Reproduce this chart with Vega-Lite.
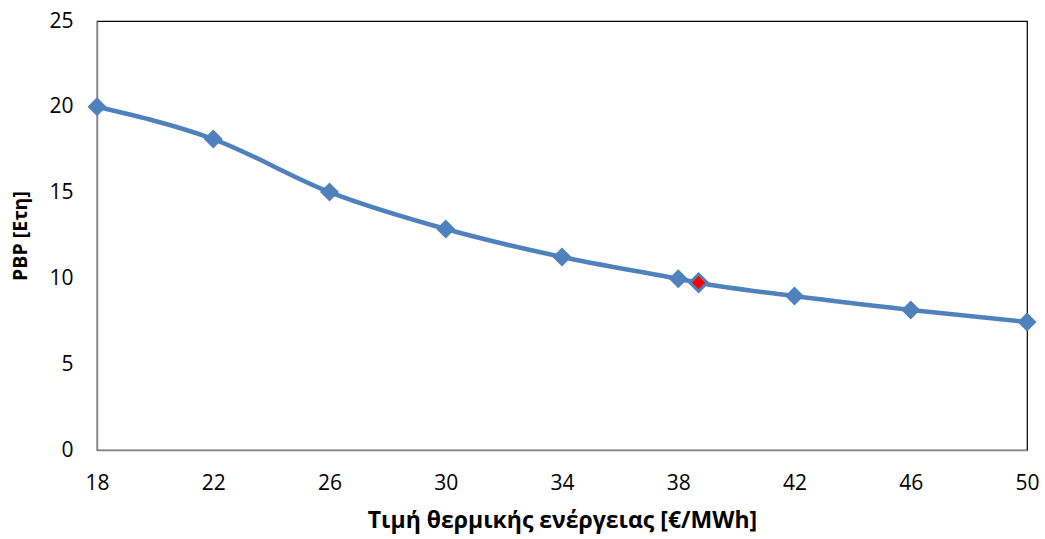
{
  "$schema": "https://vega.github.io/schema/vega-lite/v6.json",
  "width": 930,
  "height": 429,
  "autosize": {"type": "none"},
  "padding": {"left": 97, "top": 21, "right": 18, "bottom": 89},
  "background": "white",
  "config": {
    "view": {"stroke": "#000000", "strokeWidth": 1.2},
    "font": "Open Sans"
  },
  "data": {
    "values": [
      {"price": 18, "pbp": 20.0, "kind": "base"},
      {"price": 22, "pbp": 18.12, "kind": "base"},
      {"price": 26, "pbp": 15.03, "kind": "base"},
      {"price": 30, "pbp": 12.88, "kind": "base"},
      {"price": 34, "pbp": 11.25, "kind": "base"},
      {"price": 38, "pbp": 9.98, "kind": "base"},
      {"price": 38.7, "pbp": 9.75, "kind": "current"},
      {"price": 42, "pbp": 8.97, "kind": "base"},
      {"price": 46, "pbp": 8.16, "kind": "base"},
      {"price": 50, "pbp": 7.46, "kind": "base"}
    ]
  },
  "encoding": {
    "x": {
      "field": "price",
      "type": "quantitative",
      "scale": {"domain": [18, 50], "nice": false, "zero": false},
      "axis": {
        "values": [18, 22, 26, 30, 34, 38, 42, 46, 50],
        "title": "Τιμή θερμικής ενέργειας [€/MWh]",
        "titleFontSize": 23,
        "titleFontWeight": "bold",
        "titleColor": "#000000",
        "titlePadding": 16,
        "labelFontSize": 21,
        "labelColor": "#000000",
        "labelPadding": 22,
        "labelFlush": false,
        "ticks": false,
        "grid": false,
        "domainColor": "#868686",
        "domainWidth": 1.5
      }
    },
    "y": {
      "field": "pbp",
      "type": "quantitative",
      "scale": {"domain": [0, 25], "nice": false},
      "axis": {
        "values": [0, 5, 10, 15, 20, 25],
        "title": "PBP [Ετη]",
        "titleFontSize": 19.5,
        "titleFontWeight": "bold",
        "titleColor": "#000000",
        "titlePadding": 18,
        "labelFontSize": 21,
        "labelColor": "#000000",
        "labelPadding": 24,
        "ticks": false,
        "grid": false,
        "domainColor": "#868686",
        "domainWidth": 1.5
      }
    }
  },
  "layer": [
    {
      "mark": {"type": "line", "interpolate": "monotone", "color": "#4F81BD", "strokeWidth": 4.5, "clip": false}
    },
    {
      "transform": [{"filter": "datum.kind === 'base'"}],
      "mark": {"type": "point", "shape": "diamond", "filled": true, "color": "#4F81BD", "size": 360, "opacity": 1}
    },
    {
      "transform": [{"filter": "datum.kind === 'current'"}],
      "mark": {"type": "point", "shape": "diamond", "filled": true, "fill": "#FF0000", "stroke": "#4F81BD", "strokeWidth": 3, "size": 300, "opacity": 1}
    }
  ]
}
